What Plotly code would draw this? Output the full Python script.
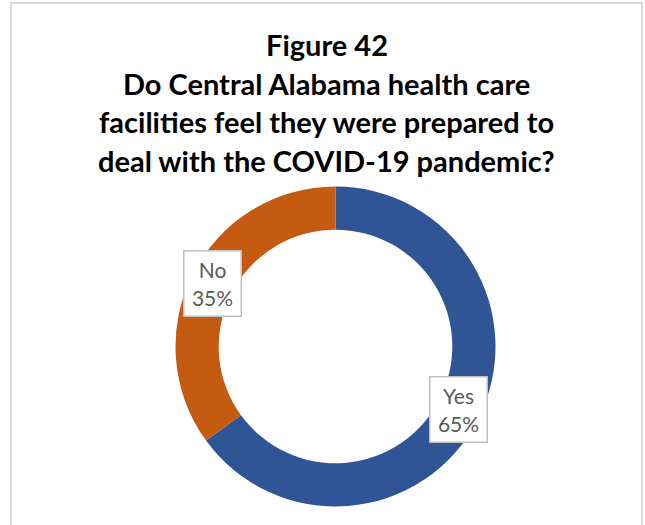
import math
import plotly.graph_objects as go

# Survey responses
categories = ["Yes", "No"]
shares = [65, 35]
colors = ["#2F5597", "#C55A11"]

title_lines = [
    "Figure 42",
    "Do Central Alabama health care",
    "facilities feel they were prepared to",
    "deal with the COVID-19 pandemic?",
]

W, H = 645, 525
cx, cy, R = 335.5, 346.5, 160     # donut centre and outer radius (px)
hole = 0.73
label_r = R * (1 + hole) / 2      # labels sit on the ring's midline

fig = go.Figure(go.Pie(
    labels=categories,
    values=shares,
    hole=hole,
    sort=False,
    direction="clockwise",
    rotation=0,
    marker=dict(colors=colors, line=dict(width=0)),
    textinfo="none",
    hoverinfo="label+percent",
    showlegend=False,
    domain=dict(x=[(cx - R) / W, (cx + R) / W],
                y=[1 - (cy + R) / H, 1 - (cy - R) / H]),
))

# Data labels placed at each slice's mid angle
total = sum(shares)
start = 0.0
for cat, val in zip(categories, shares):
    mid = (start + val / 2) / total * 2 * math.pi
    start += val
    px = cx + label_r * math.sin(mid)
    py = cy - label_r * math.cos(mid)
    fig.add_annotation(
        x=px / W, y=1 - py / H, xref="paper", yref="paper",
        xanchor="center", yanchor="middle",
        text=f"{cat}<br>{round(val / total * 100)}%",
        showarrow=False,
        font=dict(family="Lato, Carlito, sans-serif", size=21, color="#595959"),
        bgcolor="white", bordercolor="#BFBFBF", borderwidth=1.5, borderpad=2,
        width=52, height=60, align="center",
    )

# Title, one line per annotation
for i, line in enumerate(title_lines):
    fig.add_annotation(
        x=0.5 * (11 + 642) / W, y=1 - (44.5 + i * 38.7) / H,
        xref="paper", yref="paper", text=f"<b>{line}</b>", showarrow=False,
        font=dict(family="Lato, Carlito, sans-serif", size=29, color="black"),
        xanchor="center", yanchor="middle",
    )

# Chart-area border
fig.add_shape(type="rect", xref="paper", yref="paper",
              x0=11 / W, x1=642 / W, y0=-0.02, y1=1 - 3 / H,
              line=dict(color="#D9D9D9", width=2), fillcolor="rgba(0,0,0,0)")

fig.update_layout(
    width=W, height=H,
    margin=dict(l=0, r=0, t=0, b=0),
    paper_bgcolor="white", plot_bgcolor="white",
)

fig.write_html("out.html")
